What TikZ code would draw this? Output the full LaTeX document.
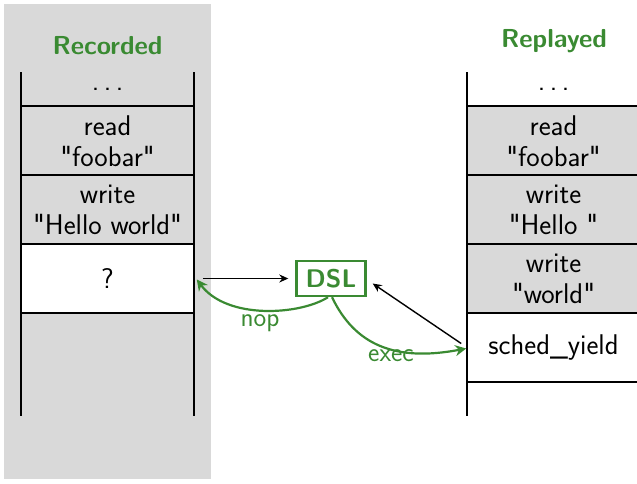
\documentclass[tikz,border=0pt]{standalone}
\usepackage{fontspec}
\setsansfont{Latin Modern Sans}[Ligatures=TeXOff]
\usetikzlibrary{arrows.meta,calc}
\definecolor{bggray}{RGB}{217,217,217}
\definecolor{dgreen}{RGB}{58,138,50}
\newcommand{\spdots}{.\hspace{0.16em}.\hspace{0.16em}.}
\begin{document}
\begin{tikzpicture}[x=1pt,y=-1pt,
  cell/.style={inner sep=0pt,minimum width=173pt,minimum height=69pt,align=center,
    font=\sffamily\fontsize{28.5}{31}\selectfont},
  cellbox/.style={cell,draw=black,line width=1.6pt},
  title/.style={font=\sffamily\bfseries\fontsize{26}{30}\selectfont,text=dgreen},
  lbl/.style={font=\sffamily\fontsize{27}{30}\selectfont,text=dgreen},
  vline/.style={line width=1.6pt},
  blk/.style={line width=1.4pt,-{Stealth[length=9pt,width=8pt]}},
  grn/.style={line width=2.2pt,draw=dgreen,-{Stealth[length=11pt,width=11pt]}}]
\useasboundingbox (0,0) rectangle (637,483);
\fill[bggray] (4,4) rectangle (211,479);
% titles
\node[title] (rec) at (107.5,46) {Recorded};
\node[title] (rep) at (554,41) {Replayed};
% left column
\node[cell,minimum height=34pt] (ld) at (107.5,89) {\spdots};
\node[cellbox,fill=bggray] (lr) at (107.5,140.75) {read\\"foobar"};
\node[cellbox,fill=bggray] (lw) at (107.5,209.75) {write\\"Hello world"};
\node[cellbox,fill=white] (lq) at (107.5,278.5) {?};
\draw[vline] (21,72) -- (21,416);
\draw[vline] (194,72) -- (194,416);
% right column
\node[cell,minimum height=34pt] (rd) at (553.5,89) {\spdots};
\node[cellbox,fill=bggray] (rr) at (553.5,140.75) {read\\"foobar"};
\node[cellbox,fill=bggray] (rw) at (553.5,209.75) {write\\"Hello "};
\node[cellbox,fill=bggray] (rw2) at (553.5,278.5) {write\\"world"};
\node[cellbox,fill=white] (sy) at (553.5,347.5) {sched\_yield};
\draw[vline] (467,72) -- (467,416);
% DSL
\node[draw=dgreen,line width=2.4pt,inner sep=0pt,minimum width=69pt,minimum height=35pt,
  font=\sffamily\bfseries\fontsize{25.5}{28}\selectfont,text=dgreen] (dsl) at (331,278.5) {DSL};
% arrows
\draw[blk,shorten <=8pt,shorten >=7pt] (lq.east) -- (dsl.west);
\coordinate (a1) at ($(sy.west)+(-5,-4)$);
\coordinate (a2) at ($(dsl.east)+(6,5)$);
\draw[blk] (a1) -- (a2);
\coordinate (n0) at ($(dsl.south)+(-3,0)$);
\coordinate (n1) at ($(lq.east)+(2,1)$);
\draw[grn] (n0) .. controls (300,315) and (227,320) .. (n1);
\coordinate (e0) at ($(dsl.south)+(1,0)$);
\coordinate (e1) at ($(sy.west)+(0,1)$);
\draw[grn] (e0) .. controls (355,345) and (395,362) .. (e1);
\node[lbl] (nop) at (260,323) {nop};
\node[lbl] (exec) at (391,356) {exec};
\end{tikzpicture}
\end{document}
